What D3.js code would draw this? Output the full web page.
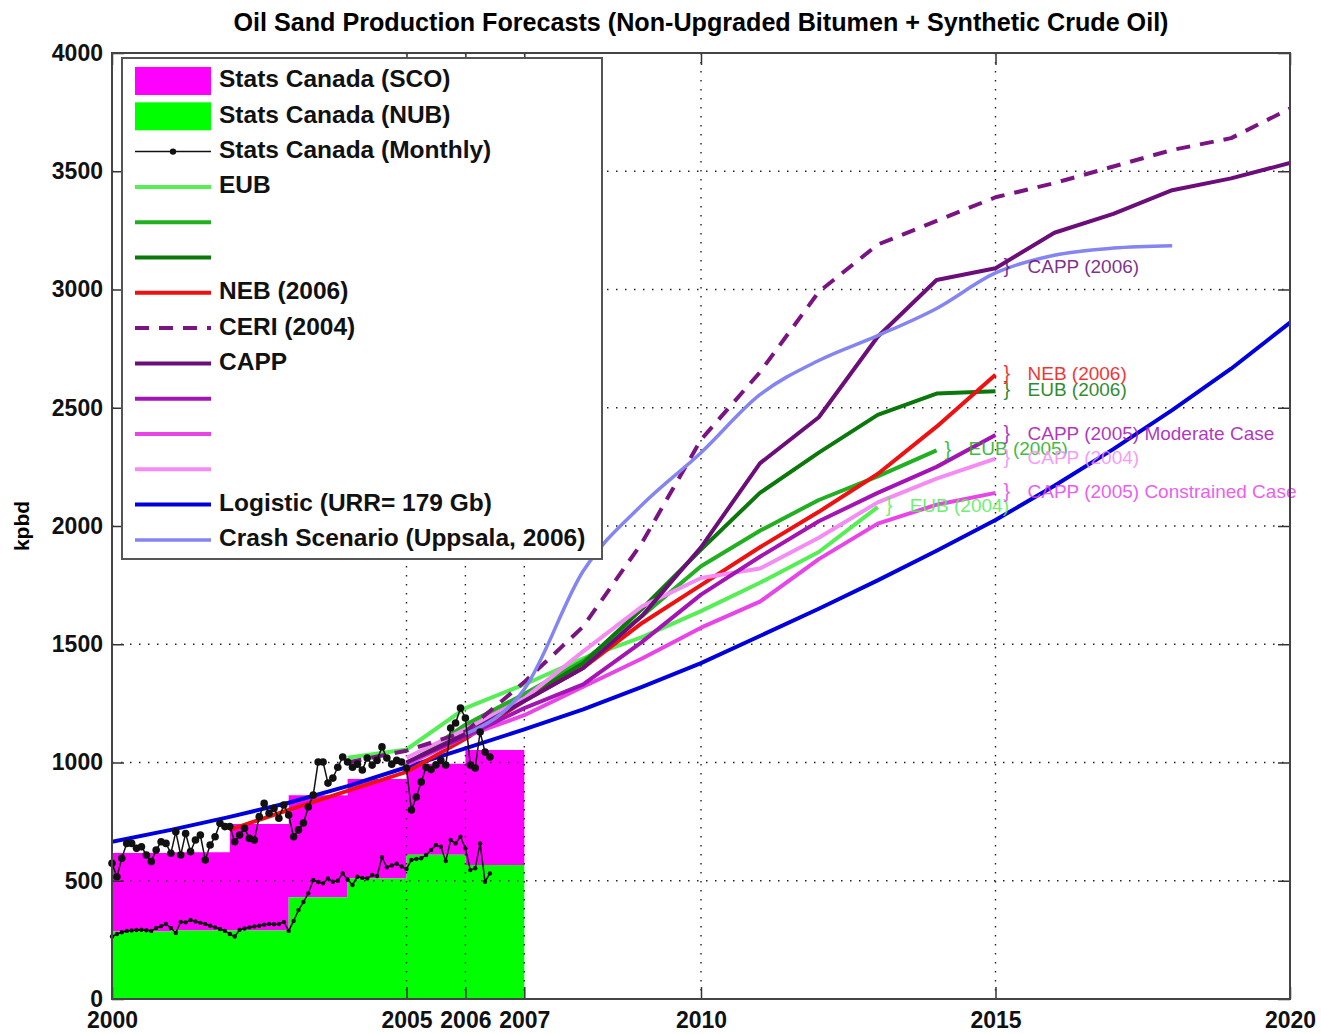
<!DOCTYPE html>
<html>
<head>
<meta charset="utf-8">
<script src="https://cdn.jsdelivr.net/npm/d3@7"></script>
<style>
  body { margin: 0; background: #fff; }
  text { font-family: "Liberation Sans", Arial, Helvetica, sans-serif; }
</style>
</head>
<body>
<div id="chart"></div>
<script>
// ---- data (kpbd) ----
const statsYears = [2000, 2001, 2002, 2003, 2004, 2005, 2006];
const nubAnnual = [285, 290, 290, 430, 510, 610, 567];
const scoAnnual = [332, 330, 450, 432, 420, 385, 486];

// Stats Canada monthly, Jan 2000 .. Jun 2006
const monthlyTotal = [
  574, 517, 595, 658, 658, 637, 644, 609, 581, 630, 665, 658,
  616, 707, 609, 700, 623, 672, 693, 588, 651, 686, 743, 729,
  729, 665, 693, 722, 679, 672, 771, 827, 785, 806, 764, 820,
  778, 686, 715, 744, 812, 862, 1002, 1002, 913, 934, 980, 1023,
  1002, 980, 993, 968, 1019, 989, 1009, 1066, 1019, 993, 1009, 1002,
  977, 799, 854, 918, 980, 970, 990, 1009, 989, 1146, 1167, 1230,
  1188, 989, 977, 1129, 1044, 1023
];
const monthlyNub = [
  264, 275, 282, 288, 290, 292, 293, 291, 288, 300, 308, 317,
  300, 279, 326, 324, 334, 328, 322, 317, 310, 303, 296, 288,
  275, 264, 293, 298, 303, 307, 310, 314, 317, 316, 317, 326,
  288, 330, 376, 410, 447, 503, 495, 489, 510, 496, 500, 531,
  505, 482, 517, 512, 510, 524, 520, 600, 557, 565, 572, 560,
  550, 588, 592, 595, 609, 630, 651, 644, 583, 672, 658, 686,
  637, 545, 553, 658, 496, 531
];

const eub2004Years = [2004, 2005, 2006, 2007, 2008, 2009, 2010, 2011, 2012, 2013];
const eub2004 = [1020, 1055, 1230, 1330, 1440, 1530, 1640, 1760, 1890, 2080];
const eub2005Years = [2005, 2006, 2007, 2008, 2009, 2010, 2011, 2012, 2013, 2014];
const eub2005 = [990, 1160, 1290, 1430, 1620, 1830, 1980, 2110, 2210, 2320];
const eub2006Years = [2005, 2006, 2007, 2008, 2009, 2010, 2011, 2012, 2013, 2014, 2015];
const eub2006 = [990, 1140, 1270, 1420, 1650, 1900, 2140, 2310, 2470, 2560, 2570];
const neb2006Years = [2002, 2003, 2004, 2005, 2006, 2007, 2008, 2009, 2010, 2011, 2012, 2013, 2014, 2015];
const neb2006 = [715, 800, 880, 960, 1100, 1260, 1400, 1590, 1750, 1910, 2060, 2220, 2420, 2640];
const ceri2004Years = [2004, 2005, 2006, 2007, 2008, 2009, 2010, 2011, 2012, 2013, 2014, 2015, 2016, 2017, 2018, 2019, 2020];
const ceri2004 = [1000, 1050, 1130, 1340, 1575, 1930, 2365, 2650, 2990, 3190, 3290, 3390, 3450, 3520, 3590, 3640, 3765];
const capp2006Years = [2005, 2006, 2007, 2008, 2009, 2010, 2011, 2012, 2013, 2014, 2015, 2016, 2017, 2018, 2019, 2020];
const capp2006 = [1000, 1120, 1260, 1400, 1620, 1910, 2265, 2460, 2800, 3040, 3090, 3240, 3320, 3420, 3470, 3535];
const capp2005ModYears = [2005, 2006, 2007, 2008, 2009, 2010, 2011, 2012, 2013, 2014, 2015];
const capp2005Mod = [1000, 1110, 1230, 1330, 1510, 1710, 1870, 2020, 2140, 2250, 2385];
const capp2005ConYears = [2005, 2006, 2007, 2008, 2009, 2010, 2011, 2012, 2013, 2014, 2015];
const capp2005Con = [990, 1110, 1200, 1320, 1440, 1570, 1680, 1860, 2010, 2090, 2140];
const capp2004Years = [2005, 2006, 2007, 2008, 2009, 2010, 2011, 2012, 2013, 2014, 2015];
const capp2004 = [1020, 1140, 1270, 1470, 1660, 1780, 1820, 1950, 2100, 2200, 2285];
const logisticYears = [2000, 2001, 2002, 2003, 2004, 2005, 2006, 2007, 2008, 2009, 2010,
                       2011, 2012, 2013, 2014, 2015, 2016, 2017, 2018, 2019, 2020];
const logistic = [665, 715, 770, 830, 900, 980, 1060, 1140, 1225, 1320, 1420,
                  1535, 1650, 1770, 1895, 2025, 2170, 2325, 2490, 2665, 2860];
const crashYears = [2006, 2007, 2008, 2009, 2010, 2011, 2012, 2013, 2014, 2015, 2016, 2017, 2018];
const crash = [1120, 1310, 1810, 2090, 2310, 2555, 2700, 2805, 2920, 3070, 3145, 3175, 3185];

const xTicks = [2000, 2005, 2006, 2007, 2010, 2015, 2020];
const yTicks = [0, 500, 1000, 1500, 2000, 2500, 3000, 3500, 4000];

// ---- layout ----
const W = 1321, H = 1034;
const plot = {left: 112, right: 1290, top: 53, bottom: 999};

const x = d3.scaleLinear().domain([2000, 2020]).range([plot.left, plot.right]);
const y = d3.scaleLinear().domain([0, 4000]).range([plot.bottom, plot.top]);

const svg = d3.select("#chart").append("svg")
    .attr("width", W).attr("height", H);

svg.append("defs").append("clipPath").attr("id", "plotclip")
  .append("rect")
    .attr("x", plot.left).attr("y", plot.top)
    .attr("width", plot.right - plot.left).attr("height", plot.bottom - plot.top);

// ---- stacked annual areas (step) ----
const annual = statsYears.map((yr, i) => ({year: yr, nub: nubAnnual[i], sco: scoAnnual[i]}));
annual.push({year: statsYears[statsYears.length - 1] + 1,
             nub: nubAnnual[nubAnnual.length - 1], sco: scoAnnual[scoAnnual.length - 1]});

const areaNub = d3.area().curve(d3.curveStepAfter)
    .x(d => x(d.year)).y0(y(0)).y1(d => y(d.nub));
const areaSco = d3.area().curve(d3.curveStepAfter)
    .x(d => x(d.year)).y0(d => y(d.nub)).y1(d => y(d.nub + d.sco));

svg.append("path").attr("d", areaSco(annual)).attr("fill", "#ff00ff");
svg.append("path").attr("d", areaNub(annual)).attr("fill", "#00ff00");

// ---- grid (dotted) ----
const grid = svg.append("g");
grid.selectAll("line.gx").data(xTicks.slice(1, -1)).enter().append("line")
    .attr("x1", d => x(d)).attr("x2", d => x(d))
    .attr("y1", plot.top).attr("y2", plot.bottom);
grid.selectAll("line.gy").data(yTicks.slice(1, -1)).enter().append("line")
    .attr("x1", plot.left).attr("x2", plot.right)
    .attr("y1", d => y(d)).attr("y2", d => y(d));
grid.selectAll("line")
    .attr("stroke", "#222").attr("stroke-width", 1.4)
    .attr("stroke-dasharray", "1.5,7.5");

// ---- forecast series ----
const series = [
  {name: "EUB",  years: eub2004Years, vals: eub2004, color: "#55ee55", label: "EUB (2004)"},
  {name: "",     years: eub2005Years, vals: eub2005, color: "#22b022", label: "EUB (2005)"},
  {name: "",     years: eub2006Years, vals: eub2006, color: "#0b780b", label: "EUB (2006)"},
  {name: "NEB (2006)", years: neb2006Years, vals: neb2006, color: "#ee1111", label: "NEB (2006)"},
  {name: "CERI (2004)", years: ceri2004Years, vals: ceri2004, color: "#7a1482", dash: "14,10"},
  {name: "CAPP", years: capp2006Years, vals: capp2006, color: "#6c0e7a", label: "CAPP (2006)", labelYear: 2015},
  {name: "",     years: capp2005ModYears, vals: capp2005Mod, color: "#a414b4", label: "CAPP (2005) Moderate Case"},
  {name: "",     years: capp2005ConYears, vals: capp2005Con, color: "#e844e8", label: "CAPP (2005) Constrained Case"},
  {name: "",     years: capp2004Years, vals: capp2004, color: "#f48cf4", label: "CAPP (2004)"},
  {name: "Logistic (URR= 179 Gb)", years: logisticYears, vals: logistic, color: "#0000dd"},
  {name: "Crash Scenario (Uppsala, 2006)", years: crashYears, vals: crash, color: "#8585f2", smooth: true}
];

const lines = svg.append("g").attr("clip-path", "url(#plotclip)");
// draw order roughly as in the original: later entries on top
const drawOrder = [9, 0, 1, 2, 3, 8, 7, 6, 5, 4, 10];
drawOrder.forEach(idx => {
  const s = series[idx];
  const gen = d3.line()
      .x(d => x(d[0])).y(d => y(d[1]))
      .curve(s.smooth ? d3.curveMonotoneX : d3.curveLinear);
  lines.append("path")
      .attr("d", gen(s.years.map((yr, i) => [yr, s.vals[i]])))
      .attr("fill", "none")
      .attr("stroke", s.color)
      .attr("stroke-width", s.smooth ? 3.5 : 4)
      .attr("stroke-linejoin", "round")
      .attr("stroke-dasharray", s.dash || null);
});

// ---- monthly Stats Canada ----
const monthX = i => 2000 + i / 12;
const monthLine = d3.line().x((d, i) => x(monthX(i))).y(d => y(d));
const monthly = svg.append("g");
[[monthlyTotal, 3.8], [monthlyNub, 2.2]].forEach(([arr, r]) => {
  monthly.append("path").attr("d", monthLine(arr))
      .attr("fill", "none").attr("stroke", "#111").attr("stroke-width", 1.5);
  monthly.selectAll(null).data(arr).enter().append("circle")
      .attr("cx", (d, i) => x(monthX(i))).attr("cy", d => y(d))
      .attr("r", r).attr("fill", "#111");
});

// ---- labels at forecast ends ----
const lab = svg.append("g").attr("font-size", 19).attr("opacity", 0.85);
series.filter(s => s.label).forEach(s => {
  const yr = s.labelYear || s.years[s.years.length - 1];
  const v = s.vals[s.years.indexOf(yr)];
  lab.append("text").attr("x", x(yr) + 8).attr("y", y(v))
      .attr("dominant-baseline", "middle").attr("fill", s.color)
      .attr("font-size", 20).text("}");
  lab.append("text").attr("x", x(yr) + 32).attr("y", y(v))
      .attr("dominant-baseline", "middle").attr("fill", s.color)
      .text(s.label);
});

// ---- axes ----
const axisFont = g => g.selectAll("text")
    .attr("font-size", 23).attr("font-weight", "bold")
    .attr("font-family", "'Liberation Sans', Arial, sans-serif").attr("fill", "#111");

svg.append("g").attr("transform", `translate(0,${plot.bottom})`)
    .call(d3.axisBottom(x).tickValues(xTicks).tickFormat(d3.format("d"))
          .tickSize(-12).tickPadding(13))
    .call(axisFont)
    .call(g => g.select(".domain").remove());
svg.append("g").attr("transform", `translate(0,${plot.top})`)
    .call(d3.axisTop(x).tickValues(xTicks).tickFormat("").tickSize(-12))
    .call(g => g.select(".domain").remove());
svg.append("g").attr("transform", `translate(${plot.left},0)`)
    .call(d3.axisLeft(y).tickValues(yTicks).tickFormat(d3.format("d"))
          .tickSize(-12).tickPadding(9))
    .call(axisFont)
    .call(g => g.select(".domain").remove());
svg.append("g").attr("transform", `translate(${plot.right},0)`)
    .call(d3.axisRight(y).tickValues(yTicks).tickFormat("").tickSize(-12))
    .call(g => g.select(".domain").remove());
svg.selectAll(".tick line").attr("stroke", "#333").attr("stroke-width", 1.5);

svg.append("rect")
    .attr("x", plot.left).attr("y", plot.top)
    .attr("width", plot.right - plot.left).attr("height", plot.bottom - plot.top)
    .attr("fill", "none").attr("stroke", "#444").attr("stroke-width", 2);

svg.append("text")
    .attr("transform", `translate(29,${(plot.top + plot.bottom) / 2}) rotate(-90)`)
    .attr("text-anchor", "middle").attr("font-size", 21).attr("font-weight", "bold")
    .text("kpbd");

svg.append("text")
    .attr("x", (plot.left + plot.right) / 2).attr("y", 31)
    .attr("text-anchor", "middle").attr("font-size", 25).attr("font-weight", "bold")
    .attr("textLength", 935).attr("lengthAdjust", "spacingAndGlyphs")
    .text("Oil Sand Production Forecasts (Non-Upgraded Bitumen + Synthetic Crude Oil)");

// ---- legend ----
const leg = svg.append("g");
const legBox = {x: 122, y: 58, w: 480, h: 501};
leg.append("rect").attr("x", legBox.x).attr("y", legBox.y)
    .attr("width", legBox.w).attr("height", legBox.h)
    .attr("fill", "#fff").attr("stroke", "#555").attr("stroke-width", 2);

const legendItems = [
  {name: "Stats Canada (SCO)", kind: "box", color: "#ff00ff"},
  {name: "Stats Canada (NUB)", kind: "box", color: "#00ff00"},
  {name: "Stats Canada (Monthly)", kind: "marker", color: "#111"}
].concat(series.map(s => ({name: s.name, kind: "line", color: s.color, dash: s.dash,
                           width: s.smooth ? 3.5 : 4})));

const rowY = i => 81 + i * 35.3;
const sx0 = 135, sx1 = 211;
legendItems.forEach((it, i) => {
  const cy = rowY(i);
  if (it.kind === "box") {
    leg.append("rect").attr("x", sx0).attr("y", cy - 14).attr("width", sx1 - sx0)
        .attr("height", 28).attr("fill", it.color);
  } else if (it.kind === "marker") {
    leg.append("line").attr("x1", sx0).attr("x2", sx1).attr("y1", cy).attr("y2", cy)
        .attr("stroke", it.color).attr("stroke-width", 1.5);
    leg.append("circle").attr("cx", (sx0 + sx1) / 2).attr("cy", cy).attr("r", 3.2)
        .attr("fill", it.color);
  } else {
    leg.append("line").attr("x1", sx0).attr("x2", sx1).attr("y1", cy).attr("y2", cy)
        .attr("stroke", it.color).attr("stroke-width", it.width)
        .attr("stroke-dasharray", it.dash || null);
  }
  if (it.name) {
    leg.append("text").attr("x", 219).attr("y", cy)
        .attr("dominant-baseline", "middle")
        .attr("font-size", 24.5).attr("font-weight", "bold").attr("fill", "#111")
        .text(it.name);
  }
});
</script>
</body>
</html>
